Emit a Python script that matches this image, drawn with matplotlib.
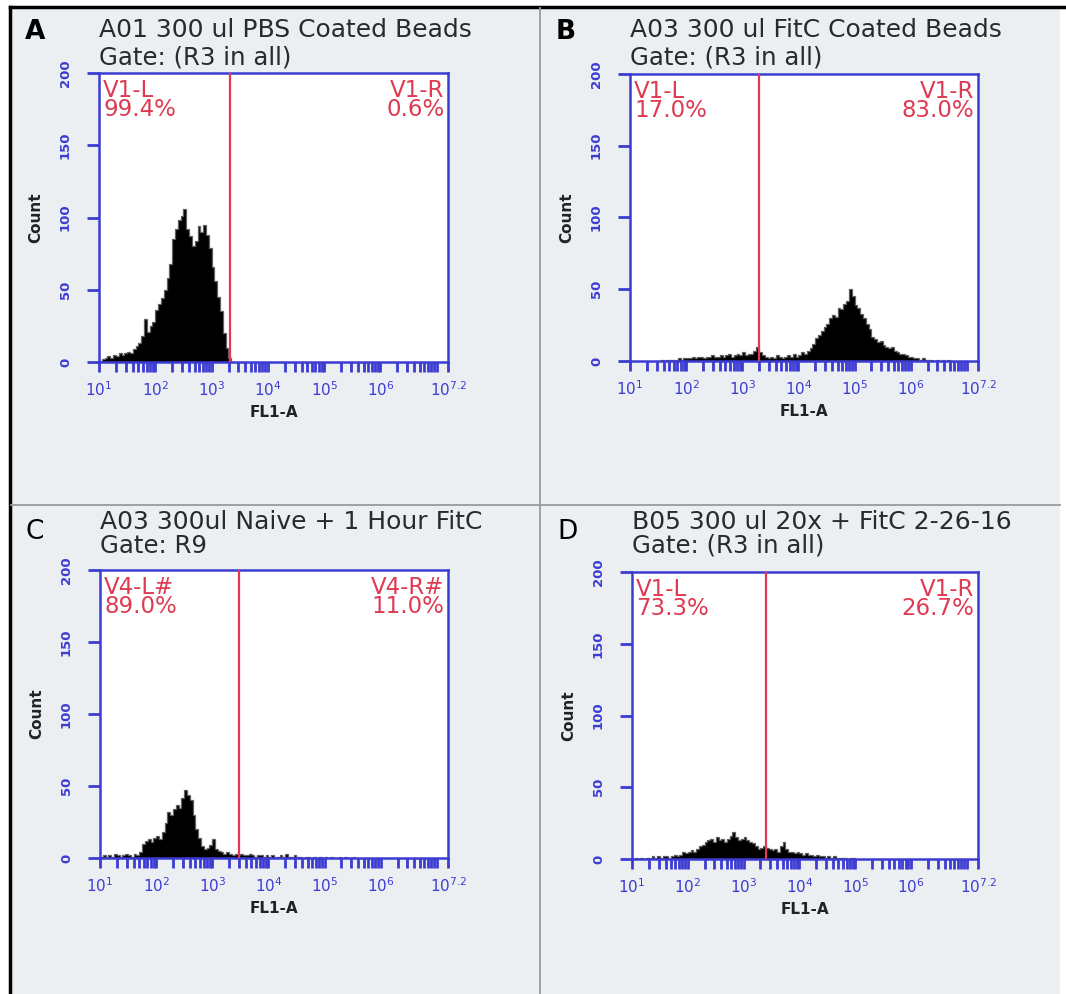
import numpy as np
import matplotlib.pyplot as plt
from matplotlib.patches import Rectangle
from matplotlib.lines import Line2D

plt.rcParams['font.family'] = ['DejaVu Sans']

W, H = 1066, 994

# counts per bin, bins are 0.05 wide in log10(FL1-A)
bin_w = 0.05

a_start = 1.0
a_counts = [1, 2, 3, 4, 3, 5, 4, 6, 5, 6, 7, 6, 9, 11, 13, 18, 30, 21, 25, 28,
            36, 40, 44, 50, 58, 68, 85, 92, 98, 101, 106, 92, 87, 80, 84, 94, 90, 95,
            88, 79, 66, 56, 45, 35, 20, 10, 3]

b_start = 1.5
b_counts = [0, 1, 0, 1, 1, 1, 1, 2, 1, 2, 2, 2, 3, 2, 3, 3, 2, 3, 3, 4,
            3, 3, 4, 3, 4, 5, 3, 4, 5, 4, 6, 4, 5, 5, 7, 10, 6, 4, 3, 2,
            3, 2, 4, 3, 2, 3, 4, 3, 5, 3, 4, 6, 5, 7, 9, 12, 16, 18, 21, 24,
            26, 30, 32, 31, 37, 36, 40, 42, 50, 45, 39, 37, 33, 30, 26, 22, 17, 15, 13, 14,
            11, 10, 9, 10, 7, 6, 5, 5, 4, 3, 3, 2, 2, 1, 2, 1, 1, 1, 0, 1,
            0, 1, 0, 1]

c_start = 1.0
c_counts = [1, 2, 1, 2, 1, 3, 2, 1, 2, 3, 2, 1, 3, 2, 4, 10, 12, 13, 11, 14,
            15, 13, 18, 24, 32, 30, 34, 37, 35, 42, 47, 44, 40, 30, 20, 14, 8, 6, 7, 9,
            13, 6, 5, 4, 3, 4, 3, 2, 3, 2, 3, 2, 2, 3, 2, 1, 2, 2, 1, 2,
            1, 2, 1, 1, 2, 1, 3, 1, 1, 2, 1, 1, 0, 1, 1, 0, 1, 0, 1, 0,
            1, 0, 1, 0, 0, 1, 0, 1, 0, 0, 1]

d_start = 1.0
d_counts = [0, 1, 0, 1, 0, 1, 1, 2, 1, 2, 1, 2, 2, 1, 2, 3, 2, 3, 5, 4,
            5, 6, 5, 7, 9, 10, 12, 13, 14, 12, 15, 13, 14, 12, 14, 16, 19, 15, 13, 14,
            15, 13, 12, 11, 9, 7, 8, 9, 8, 7, 6, 7, 5, 9, 12, 7, 5, 5, 4, 5,
            4, 3, 4, 3, 3, 2, 3, 2, 2, 1, 2, 1, 2, 1, 1, 1, 1, 0, 1, 1, 0]

starts = [a_start, b_start, c_start, d_start]
counts = [a_counts, b_counts, c_counts, d_counts]

letters = ['A', 'B', 'C', 'D']
titles = ['A01 300 ul PBS Coated Beads', 'A03 300 ul FitC Coated Beads',
          'A03 300ul Naive + 1 Hour FitC', 'B05 300 ul 20x + FitC 2-26-16']
gates = ['Gate: (R3 in all)', 'Gate: (R3 in all)', 'Gate: R9', 'Gate: (R3 in all)']
left_names = ['V1-L', 'V1-L', 'V4-L#', 'V1-L']
right_names = ['V1-R', 'V1-R', 'V4-R#', 'V1-R']
left_pct = ['99.4%', '17.0%', '89.0%', '73.3%']
right_pct = ['0.6%', '83.0%', '11.0%', '26.7%']
gate_pos = [3.33, 3.29, 3.48, 3.41]

xticks = [1, 2, 3, 4, 5, 6, 7.2]
xlabels = ['$10^{1}$', '$10^{2}$', '$10^{3}$', '$10^{4}$', '$10^{5}$', '$10^{6}$', '$10^{7.2}$']
yticks = [0, 50, 100, 150, 200]

# axes boxes in pixels: left, top, right, bottom
boxes = [(99, 73, 448, 362), (630, 74, 978, 361), (100, 570, 448, 858), (632, 572, 978, 859)]
letter_xy = [(35, 32), (566, 32), (35, 532), (567, 532)]
title_y = [30, 30, 522, 522]
gate_y = [57, 57, 546, 546]

blue = '#3c3cd2'
red = '#de3b52'

fig = plt.figure(figsize=(W / 100, H / 100), dpi=100)
fig.patch.set_facecolor('white')

def fx(x):
    return x / W

def fy(y):
    return 1 - y / H

# panel background, outer frame and dividers
fig.patches.append(Rectangle((fx(11), 0), fx(1060 - 11), fy(8), transform=fig.transFigure,
                             facecolor='#ebeff2', edgecolor='none', zorder=-5))
fig.lines.append(Line2D([fx(10), fx(1066)], [fy(7), fy(7)], transform=fig.transFigure, color='black', lw=2.5))
fig.lines.append(Line2D([fx(10), fx(10)], [0, fy(7)], transform=fig.transFigure, color='black', lw=2.5))
fig.lines.append(Line2D([fx(540), fx(540)], [0, fy(8)], transform=fig.transFigure, color='#9a9a9a', lw=1.3))
fig.lines.append(Line2D([fx(11), fx(1060)], [fy(505), fy(505)], transform=fig.transFigure, color='#9a9a9a', lw=1.3))

minor = []
for k in range(1, 8):
    for m in range(1, 10):
        v = k + np.log10(m)
        if v < 7.2 and m > 1 or k == 7 and m == 1:
            minor.append(v)

for i in range(4):
    l, t, r, b = boxes[i]
    ax = fig.add_axes([fx(l), fy(b), fx(r - l), (b - t) / H])
    ax.set_facecolor('white')
    n = len(counts[i])
    edges = starts[i] + bin_w * np.arange(n + 1)
    ax.stairs(counts[i], edges, fill=True, color='black', zorder=2)
    ax.stairs(counts[i], edges, color='#606060', lw=0.9, zorder=2)
    ax.axvline(gate_pos[i], color=red, lw=1.6, zorder=3)
    ax.set_xlim(1, 7.2)
    ax.set_ylim(0, 200)

    ax.set_xticks(xticks)
    ax.set_xticklabels(xlabels, color=blue, fontsize=11, fontweight='bold')
    ax.set_xticks(minor, minor=True)
    ax.set_yticks(yticks)
    ax.set_yticklabels([str(v) for v in yticks], color=blue, fontsize=9.5, fontweight='bold',
                       rotation=90, va='center')
    ax.tick_params(axis='x', which='both', color=blue, length=7.5, width=2, direction='out', pad=6)
    ax.tick_params(axis='y', which='major', color=blue, length=8.5, width=2, direction='out', pad=11)
    for s in ax.spines.values():
        s.set_color(blue)
        s.set_linewidth(1.8)

    ax.set_xlabel('FL1-A', fontsize=11, fontweight='bold', color='#222222', labelpad=4)
    ax.set_ylabel('Count', fontsize=11, fontweight='bold', color='#222222', labelpad=11)

    # gate region labels: name over percentage, packed tight like the instrument export
    h = b - t
    ax.text(0.012, 1 - 6 / h, left_names[i] + '\n' + left_pct[i], transform=ax.transAxes,
            ha='left', va='top', color=red, fontsize=16.5, linespacing=0.78, zorder=4)
    ax.text(0.99, 1 - 6 / h, right_names[i] + '\n' + right_pct[i], transform=ax.transAxes,
            ha='right', va='top', multialignment='right', color=red, fontsize=16.5,
            linespacing=0.78, zorder=4)

    fig.text(fx(letter_xy[i][0]), fy(letter_xy[i][1]), letters[i], ha='center', va='center',
             fontsize=19, fontweight='bold' if i < 2 else 'normal', color='black')
    fig.text(fx(l), fy(title_y[i]), titles[i], ha='left', va='center', fontsize=18, color='#2a2a2a')
    fig.text(fx(l), fy(gate_y[i]), gates[i], ha='left', va='center', fontsize=17.6, color='#2a2a2a')

fig.savefig('out.png', dpi=100, facecolor='white')
